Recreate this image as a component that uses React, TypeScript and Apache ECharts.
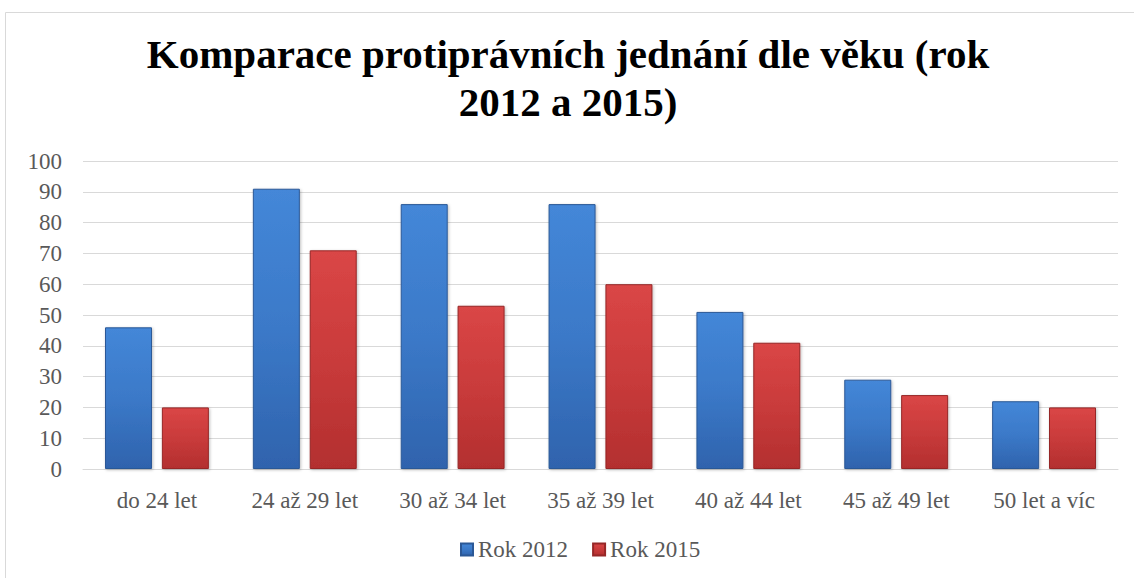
import React, { useEffect, useRef } from "react";
import * as echarts from "echarts";

const categories = ["do 24 let", "24 až 29 let", "30 až 34 let", "35 až 39 let", "40 až 44 let", "45 až 49 let", "50 let a víc"];
const rok2012 = [46, 91, 86, 86, 51, 29, 22];
const rok2015 = [20, 71, 53, 60, 41, 24, 20];
const seriesNames = ["Rok 2012", "Rok 2015"];
const titleText = "Komparace protiprávních jednání dle věku (rok\n2012 a 2015)";

const serif = "serif";

function grad(top: string, mid: string, bottom: string) {
  return new echarts.graphic.LinearGradient(0, 0, 0, 1, [
    { offset: 0, color: top },
    { offset: 0.5, color: mid },
    { offset: 1, color: bottom },
  ]);
}

export default function App() {
  const ref = useRef<HTMLDivElement>(null);
  useEffect(() => {
    if (!ref.current) return;
    const chart = echarts.init(ref.current, undefined, { renderer: "svg" });
    chart.setOption({
      animation: false,
      backgroundColor: "#ffffff",
      textStyle: { fontFamily: serif },
      graphic: [
        {
          type: "rect",
          left: 3,
          top: 10,
          shape: { x: 0, y: 0, width: 1160, height: 620 },
          style: { fill: "none", stroke: "#d9d9d9", lineWidth: 1 },
          silent: true,
          z: -1,
        },
      ],
      title: {
        text: titleText,
        left: 568,
        top: 30,
        padding: 0,
        textAlign: "center",
        textStyle: {
          fontFamily: serif,
          fontWeight: "bold",
          fontSize: 41,
          lineHeight: 48,
          color: "#000000",
        },
      },
      legend: {
        data: seriesNames,
        left: 460,
        top: 538,
        padding: 0,
        itemWidth: 12,
        itemHeight: 12,
        itemGap: 24,
        icon: "rect",
        textStyle: { fontFamily: serif, fontSize: 23, color: "#595959" },
      },
      grid: { left: 83, right: 16, top: 161, bottom: 109 },
      xAxis: {
        type: "category",
        data: categories,
        axisLine: { show: true, lineStyle: { color: "#d9d9d9", width: 1 } },
        axisTick: { show: false },
        axisLabel: { fontFamily: serif, fontSize: 23, color: "#595959", margin: 20, interval: 0 },
      },
      yAxis: {
        type: "value",
        min: 0,
        max: 100,
        interval: 10,
        axisLine: { show: false },
        axisTick: { show: false },
        splitLine: { lineStyle: { color: "#d9d9d9", width: 1 } },
        axisLabel: { fontFamily: serif, fontSize: 23, color: "#595959", margin: 21 },
      },
      series: [
        {
          name: seriesNames[0],
          type: "bar",
          data: rok2012,
          barWidth: 47,
          barGap: "21%",
          itemStyle: {
            color: grad("#4487d8", "#3b79c8", "#2f63ad"),
            borderColor: "#2b5896",
            borderWidth: 1,
            shadowColor: "rgba(0,0,0,0.25)",
            shadowBlur: 3,
            shadowOffsetX: 1,
            shadowOffsetY: 1,
          },
        },
        {
          name: seriesNames[1],
          type: "bar",
          data: rok2015,
          barWidth: 47,
          barGap: "21%",
          itemStyle: {
            color: grad("#da4646", "#c93b3b", "#b32f2f"),
            borderColor: "#962727",
            borderWidth: 1,
            shadowColor: "rgba(0,0,0,0.25)",
            shadowBlur: 3,
            shadowOffsetX: 1,
            shadowOffsetY: 1,
          },
        },
      ],
    });
    return () => chart.dispose();
  }, []);
  return (
    <div
      ref={ref}
      style={{ position: "absolute", left: 0, top: 0, width: 1134, height: 578 }}
    />
  );
}
